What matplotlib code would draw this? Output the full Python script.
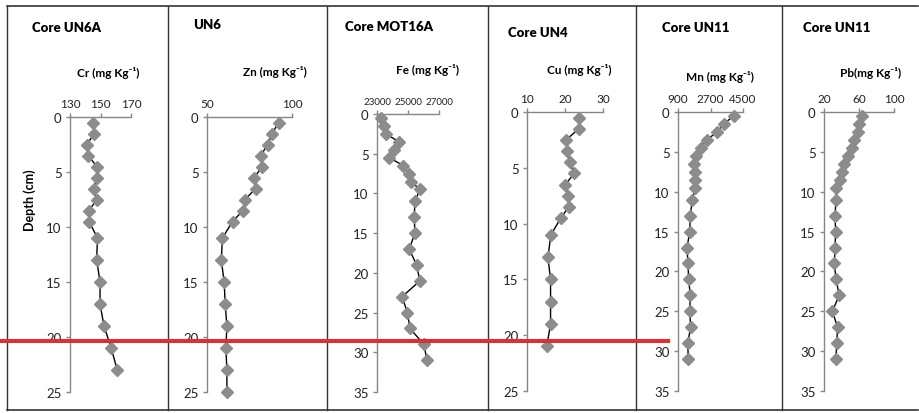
import matplotlib
matplotlib.use("Agg")
import matplotlib.pyplot as plt
from matplotlib.lines import Line2D

plt.rcParams['font.family'] = ['Lato', 'DejaVu Sans']

W, H = 919, 414

# depths (cm)
depth_a = [0.5, 1.5, 2.5, 3.5, 4.5, 5.5, 6.5, 7.5, 8.5, 9.5, 11, 13, 15, 17, 19, 21, 23]
depth_zn = depth_a + [25]
depth_b = depth_a + [25, 27, 29, 31]
depth_cu = depth_a[:-1]

# concentrations (mg/kg)
cr = [145.3, 146, 141, 142, 147.5, 147.5, 145.7, 147.5, 142.5, 142.5, 148, 147.5,
      149.7, 149.7, 152.3, 157, 161]
zn = [92.2, 88.3, 85.6, 81.7, 82.5, 77.8, 78.6, 72.4, 71.2, 65, 59.1, 58.4, 60.1,
      60.7, 61.7, 61.1, 61.7, 61.7]
fe = [23280, 23470, 23570, 24420, 24100, 23790, 24700, 25080, 25190, 25770, 25450,
      25400, 25450, 25080, 25550, 25770, 24620, 24960, 25130, 26020, 26230]
cu = [23.6, 23.6, 20.3, 20.6, 21.3, 22.4, 20.1, 20.8, 21, 18.9, 16.3, 15.5, 16.2,
      16.2, 16.2, 15.2]
mn = [3980, 3430, 3060, 2500, 2150, 1910, 1770, 1860, 1860, 1860, 1690, 1580, 1550,
      1400, 1450, 1490, 1580, 1550, 1600, 1440, 1470]
pb = [63.8, 60, 59, 54.7, 51.6, 47.8, 43.2, 41, 38.7, 33.7, 33.7, 32.6, 33.3, 32.6,
      31.8, 33.7, 37.5, 29.5, 35.6, 34.5, 33.7]

titles = ['Core UN6A', 'UN6', 'Core MOT16A', 'Core UN4', 'Core UN11', 'Core UN11']
labels = ['Cr (mg Kg⁻¹)', 'Zn (mg Kg⁻¹)', 'Fe (mg Kg⁻¹)', 'Cu (mg Kg⁻¹)',
          'Mn (mg Kg⁻¹)', 'Pb(mg Kg⁻¹)']
xticks = [[130, 150, 170], [50, 100], [23000, 25000, 27000], [10, 20, 30],
          [900, 2700, 4500], [20, 60, 100]]
ymax = [25, 25, 35, 25, 35, 35]
series = [(cr, depth_a), (zn, depth_zn), (fe, depth_b), (cu, depth_cu),
          (mn, depth_b), (pb, depth_b)]

# layout in pixels
boxes = [(70, 131, 118, 393), (207, 292, 118, 393), (377, 439, 115, 393),
         (527, 603, 113, 392), (678, 743, 113, 392), (824, 894, 113, 392)]
title_pos = [(32, 28), (193, 25), (345, 27), (508, 33), (662, 28), (803, 28)]
label_pos = [(108, 73), (275, 72), (427, 70), (579, 70), (720, 77), (871, 73)]
xtick_size = [8.5, 8.5, 7, 8.5, 8.5, 8.5]

fig = plt.figure(figsize=(W / 100, H / 100), dpi=100)
axis_col = '#868686'

for i in range(6):
    x0, x1, y0, y1 = boxes[i]
    ax = fig.add_axes([x0 / W, 1 - y1 / H, (x1 - x0) / W, (y1 - y0) / H])
    vals, dep = series[i]
    ax.plot(vals, dep, color='black', lw=1, marker='D', ms=5.8,
            mfc='#8c8c8c', mec='#8c8c8c', zorder=3, clip_on=False)
    ax.set_xlim(xticks[i][0], xticks[i][-1])
    ax.set_ylim(ymax[i], 0)
    ax.set_xticks(xticks[i])
    ax.set_yticks(range(0, ymax[i] + 1, 5))
    ax.xaxis.tick_top()
    for s in ['right', 'bottom']:
        ax.spines[s].set_visible(False)
    for s in ['top', 'left']:
        ax.spines[s].set_color(axis_col)
        ax.spines[s].set_linewidth(1)
    ax.tick_params(axis='x', length=3, width=1, color=axis_col, pad=3,
                   labelsize=xtick_size[i], labelcolor='#222222')
    ax.tick_params(axis='y', length=3, width=1, color=axis_col, pad=3,
                   labelsize=9.5, labelcolor='#222222')
    ax.patch.set_alpha(0)
    fig.text(title_pos[i][0] / W, 1 - title_pos[i][1] / H, titles[i],
             fontsize=9.5, fontweight='heavy', ha='left', va='center')
    fig.text(label_pos[i][0] / W, 1 - label_pos[i][1] / H, labels[i],
             fontsize=8.5, fontweight='bold', ha='center', va='center')

fig.text(30 / W, 1 - 200 / H, 'Depth (cm)', rotation=90, fontsize=9,
         fontweight='bold', ha='center', va='center')

# panel frames
frame_col = '#333333'
top, bot = 1 - 7 / H, 1 - 411 / H
fig.add_artist(Line2D([7 / W, 918 / W], [top, top], color=frame_col, lw=1.2))
fig.add_artist(Line2D([7 / W, 918 / W], [bot, bot], color=frame_col, lw=1.2))
for xs in [7, 168, 327, 488, 636, 782]:
    fig.add_artist(Line2D([xs / W, xs / W], [top, bot], color=frame_col, lw=1))

# red reference line
fig.add_artist(Line2D([0, 668 / W], [1 - 342 / H, 1 - 342 / H],
                      color='#d2343c', lw=3, zorder=10))

fig.savefig('out.png', dpi=100)
